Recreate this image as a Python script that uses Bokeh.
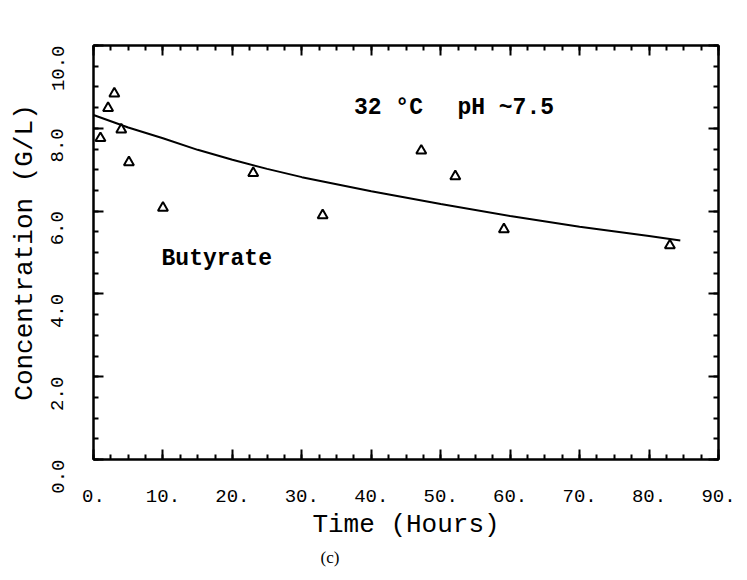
from bokeh.plotting import figure
from bokeh.models import (Range1d, LinearAxis, PrintfTickFormatter, CustomJSTickFormatter,
                          Label, SingleIntervalTicker, Title)
from bokeh.embed import file_html
from bokeh.resources import INLINE

# Measured data (Time in hours, concentration in g/L)
time_h = [1.0, 2.1, 3.0, 4.0, 5.1, 10.0, 23.0, 33.0, 47.2, 52.1, 59.1, 83.0]
conc = [7.76, 8.49, 8.84, 7.97, 7.18, 6.08, 6.92, 5.90, 7.46, 6.84, 5.56, 5.17]

# Fitted curve
curve_t = [0, 5, 10, 15, 20, 25, 30, 40, 50, 60, 70, 80, 84.5]
curve_c = [8.32, 8.02, 7.76, 7.48, 7.24, 7.02, 6.82, 6.48, 6.17, 5.88, 5.62, 5.40, 5.29]

MONO = "Liberation Mono"

p = figure(frame_width=625, frame_height=414, min_border_left=93, min_border_right=20,
           min_border_top=45, min_border_bottom=100,
           x_range=Range1d(0, 90), y_range=Range1d(0, 10),
           output_backend="svg", toolbar_location=None,
           x_axis_location=None, y_axis_location=None)
p.xgrid.visible = False
p.ygrid.visible = False
p.outline_line_color = "black"
p.outline_line_width = 2
p.background_fill_color = "white"
p.border_fill_color = "white"


def style(ax, ticker):
    ax.ticker = ticker
    ax.axis_line_width = 2
    ax.axis_line_color = "black"
    ax.major_tick_in = 10
    ax.major_tick_out = 0
    ax.minor_tick_in = 5
    ax.minor_tick_out = 0
    ax.major_tick_line_width = 2
    ax.minor_tick_line_width = 2
    ax.major_tick_line_color = "black"
    ax.minor_tick_line_color = "black"
    ax.major_label_text_font = MONO
    ax.major_label_text_color = "black"
    ax.major_label_text_font_size = "19px"
    ax.axis_label_text_font = MONO
    ax.axis_label_text_font_style = "normal"
    ax.axis_label_text_color = "black"
    ax.axis_label_text_font_size = "26px"


xt = SingleIntervalTicker(interval=10, num_minor_ticks=4)
yt = SingleIntervalTicker(interval=2, num_minor_ticks=4)

xb = LinearAxis(axis_label="Time (Hours)", formatter=PrintfTickFormatter(format="%d."))
style(xb, xt)
xb.major_label_standoff = 30
xb.axis_label_standoff = 5
p.add_layout(xb, "below")

yl = LinearAxis(axis_label="Concentration (G/L)", formatter=PrintfTickFormatter(format="%.1f"))
style(yl, yt)
yl.major_label_orientation = 3.14159265 / 2
yl.major_label_standoff = 36
yl.axis_label_standoff = 3
p.add_layout(yl, "left")

xa = LinearAxis(formatter=CustomJSTickFormatter(code="return ''"))
style(xa, SingleIntervalTicker(interval=10, num_minor_ticks=4))
xa.major_label_standoff = 0
p.add_layout(xa, "above")

yr = LinearAxis(formatter=CustomJSTickFormatter(code="return ''"))
style(yr, SingleIntervalTicker(interval=2, num_minor_ticks=4))
yr.major_label_standoff = 0
p.add_layout(yr, "right")

p.line(curve_t, curve_c, line_color="black", line_width=2)
p.scatter(time_h, conc, marker="triangle", size=10, fill_color="white",
          line_color="black", line_width=2)

p.add_layout(Label(x=9.8, y=4.84, text="Butyrate", text_font=MONO, text_font_style="bold",
                   text_font_size="23px", text_color="black", text_baseline="alphabetic"))
p.add_layout(Label(x=37.5, y=8.48, text="32 °C", text_font=MONO, text_font_style="bold",
                   text_font_size="23px", text_color="black", text_baseline="alphabetic"))
p.add_layout(Label(x=52.4, y=8.48, text="pH ~7.5", text_font=MONO, text_font_style="bold",
                   text_font_size="23px", text_color="black", text_baseline="alphabetic"))

cap = Title(text="(c)", align="left", offset=227, text_font="Liberation Serif",
            text_font_size="17px", text_font_style="normal", text_color="black",
            standoff=7)
p.add_layout(cap, "below")

open("out.html", "w").write(file_html(p, INLINE))
